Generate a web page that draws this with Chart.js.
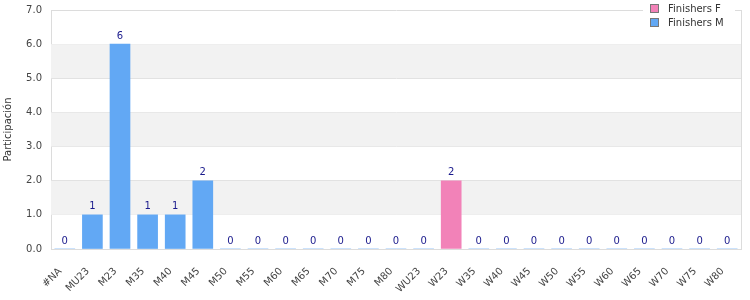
<!DOCTYPE html>
<html>
<head>
<meta charset="utf-8">
<script src="https://cdn.jsdelivr.net/npm/chart.js@4"></script>
<style>
  html, body { margin: 0; padding: 0; background: #fff; }
  #wrap { width: 750px; height: 300px; }
</style>
</head>
<body>
<div id="wrap"><canvas id="myChart" width="750" height="300"></canvas></div>
<script>
// categories and values
const categories = ['#NA', 'MU23', 'M23', 'M35', 'M40', 'M45', 'M50', 'M55', 'M60', 'M65', 'M70', 'M75', 'M80',
  'WU23', 'W23', 'W35', 'W40', 'W45', 'W50', 'W55', 'W60', 'W65', 'W70', 'W75', 'W80'];
const finishersF = [null, null, null, null, null, null, null, null, null, null, null, null, null,
  null, 2, null, null, null, null, null, null, null, null, null, null];
const finishersM = [0, 1, 6, 1, 1, 2, 0, 0, 0, 0, 0, 0, 0,
  0, null, 0, 0, 0, 0, 0, 0, 0, 0, 0, 0];
const yTicks = [0, 1, 2, 3, 4, 5, 6, 7];

const FONT = "'DejaVu Sans', sans-serif";

// grey bands + right frame line
const bands = {
  id: 'bands',
  beforeDatasetsDraw(chart) {
    const { ctx, chartArea: a, scales: { y } } = chart;
    ctx.save();
    ctx.fillStyle = '#f2f2f2';
    for (let v = 1; v < 7; v += 2) {
      const top = y.getPixelForValue(v + 1), bot = y.getPixelForValue(v);
      ctx.fillRect(a.left, top, a.right - a.left, bot - top);
    }
    ctx.restore();
  },
  afterDraw(chart) {
    const { ctx, chartArea: a } = chart;
    ctx.save();
    ctx.strokeStyle = '#dcdcdc';
    ctx.lineWidth = 1;
    ctx.beginPath();
    ctx.moveTo(Math.round(a.right) + 0.5, a.top);
    ctx.lineTo(Math.round(a.right) + 0.5, a.bottom);
    ctx.stroke();
    ctx.restore();
  }
};

// value labels above each bar
const valueLabels = {
  id: 'valueLabels',
  afterDatasetsDraw(chart) {
    const { ctx } = chart;
    ctx.save();
    ctx.font = '10px ' + FONT;
    ctx.fillStyle = '#1a1a8c';
    ctx.textAlign = 'center';
    ctx.textBaseline = 'bottom';
    chart.data.datasets.forEach((ds, i) => {
      chart.getDatasetMeta(i).data.forEach((bar, j) => {
        if (ds.data[j] === null) return;
        ctx.fillText(String(ds.data[j]), bar.x, bar.y - 3);
      });
    });
    ctx.restore();
  }
};

// legend box in the top right corner
const cornerLegend = {
  id: 'cornerLegend',
  afterDraw(chart) {
    const { ctx } = chart;
    ctx.save();
    ctx.fillStyle = '#fff';
    ctx.fillRect(643, 0, 92, 32);
    ctx.font = '10px ' + FONT;
    ctx.textBaseline = 'middle';
    chart.data.datasets.forEach((ds, i) => {
      const y = 9 + i * 14;
      ctx.fillStyle = ds.backgroundColor;
      ctx.fillRect(650.5, y - 4.5, 8, 8);
      ctx.strokeStyle = '#777';
      ctx.lineWidth = 1;
      ctx.strokeRect(650.5, y - 4.5, 8, 8);
      ctx.fillStyle = '#333';
      ctx.fillText(ds.label, 668, y);
    });
    ctx.restore();
  }
};

const ctx = document.getElementById('myChart').getContext('2d');

const myChart = new Chart(ctx, {
  type: 'bar',
  data: {
    labels: categories,
    datasets: [
      { label: 'Finishers F', data: finishersF, backgroundColor: '#f282b8', barThickness: 20 },
      { label: 'Finishers M', data: finishersM, backgroundColor: '#62a8f4', barThickness: 20 }
    ]
  },
  options: {
    responsive: false,
    animation: false,
    layout: { padding: { top: 10, right: 9, left: 0, bottom: 0 } },
    plugins: {
      legend: { display: false },
      tooltip: { enabled: false }
    },
    scales: {
      x: {
        stacked: true,
        grid: { display: false },
        border: { color: '#dcdcdc' },
        afterFit(scale) { scale.height = 51; },
        ticks: {
          color: '#444',
          font: { family: FONT, size: 10 },
          maxRotation: 45,
          minRotation: 45,
          autoSkip: false,
          padding: 4,
          callback: (v, i) => categories[i] + '  '
        }
      },
      y: {
        stacked: true,
        min: 0,
        max: 7,
        afterBuildTicks(scale) { scale.ticks = yTicks.map(v => ({ value: v })); },
        afterFit(scale) { scale.width = 51; scale.paddingTop = 0; scale.paddingBottom = 0; },
        grid: { color: '#dcdcdc', drawTicks: false },
        border: { color: '#dcdcdc' },
        ticks: {
          color: '#444',
          font: { family: FONT, size: 10 },
          padding: 9,
          callback: v => Number(v).toFixed(1)
        },
        title: {
          display: true,
          text: 'Participación',
          color: '#333',
          font: { family: FONT, size: 10 },
          padding: { top: 2, bottom: 2 }
        }
      }
    }
  },
  plugins: [bands, valueLabels, cornerLegend]
});
</script>
</body>
</html>
